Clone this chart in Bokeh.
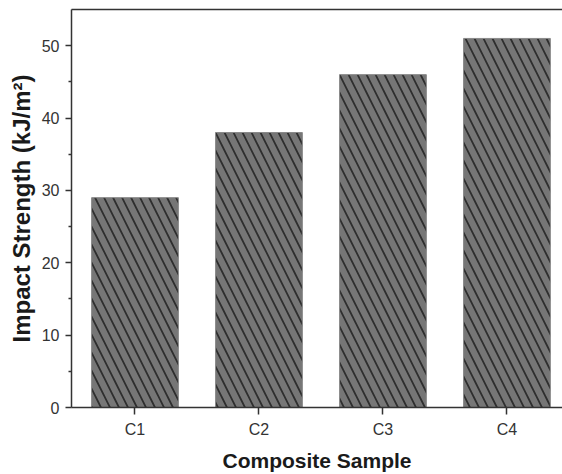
from bokeh.plotting import figure
from bokeh.models import FixedTicker, Range1d, LinearAxis
from bokeh.embed import file_html
from bokeh.resources import INLINE

categories = ["C1", "C2", "C3", "C4"]
impact_strength = [29, 38, 46, 51]
positions = [1, 2, 3, 4]

p = figure(width=562, height=474, output_backend="svg", toolbar_location=None,
           x_range=Range1d(0.488, 4.448), y_range=Range1d(0, 55),
           min_border_left=71, min_border_right=0, min_border_top=9, min_border_bottom=65)

p.vbar(x=positions, top=impact_strength, width=0.7, bottom=0,
       fill_color="#767676", line_color="#8a8a8a", line_width=1,
       hatch_pattern="\\", hatch_color="#2e2e2e", hatch_weight=1.8, hatch_scale=18)

p.outline_line_color = None
p.grid.visible = False
p.background_fill_color = "white"
p.border_fill_color = "white"

top_axis = LinearAxis(ticker=FixedTicker(ticks=[]),
                      major_tick_out=0, major_tick_in=0, minor_tick_out=0, minor_tick_in=0,
                      major_label_standoff=0, axis_line_color="#333333", axis_line_width=1.5)
p.add_layout(top_axis, "above")

xa = p.below[0]
ya = p.left[0]

xa.ticker = FixedTicker(ticks=positions)
xa.major_label_overrides = {pos: c for pos, c in zip(positions, categories)}
xa.major_tick_out = 7
xa.major_tick_in = 0
xa.axis_label = "Composite Sample"

ya.ticker = FixedTicker(ticks=[0, 10, 20, 30, 40, 50], minor_ticks=[5, 15, 25, 35, 45])
ya.major_tick_out = 6
ya.major_tick_in = 0
ya.minor_tick_out = 3
ya.minor_tick_in = 0
ya.axis_label = "Impact Strength (kJ/m²)"

for ax in (xa, ya):
    ax.axis_line_color = "#333333"
    ax.axis_line_width = 1.5
    ax.major_tick_line_color = "#333333"
    ax.major_tick_line_width = 1.5
    ax.minor_tick_line_color = "#333333"
    ax.minor_tick_line_width = 1.5
    ax.major_label_text_font = "Liberation Sans"
    ax.major_label_text_font_size = "16px"
    ax.major_label_text_color = "#333333"
    ax.axis_label_text_font = "Liberation Sans"
    ax.axis_label_text_font_style = "bold"
    ax.axis_label_text_color = "#1a1a1a"

xa.minor_tick_line_color = None
xa.major_label_standoff = 6
xa.axis_label_standoff = 8
xa.axis_label_text_font_size = "21px"
ya.major_label_standoff = 6
ya.axis_label_standoff = 4
ya.axis_label_text_font_size = "24px"

open("out.html", "w").write(file_html(p, INLINE))
